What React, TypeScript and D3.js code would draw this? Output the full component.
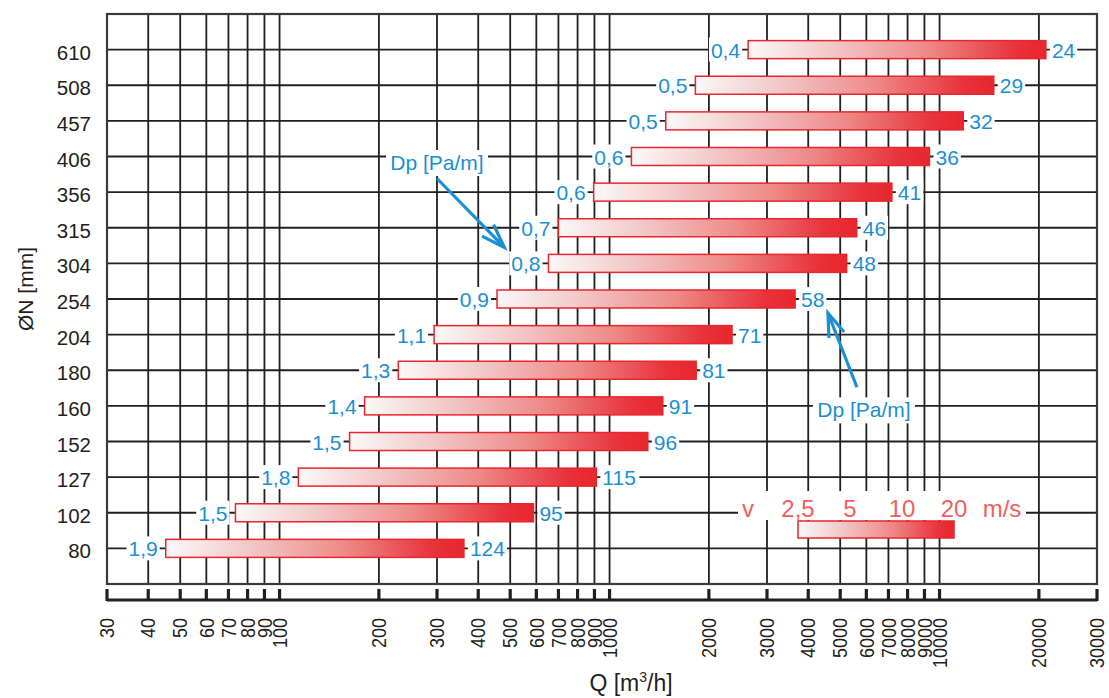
import React from "react"
import * as d3 from "d3"

// duct diameters, top to bottom
const sizes = ["610", "508", "457", "406", "356", "315", "304", "254", "204", "180", "160", "152", "127", "102", "80"]
// air flow at 2,5 m/s and at 20 m/s [m3/h]
const qMin = [2630, 1820, 1480, 1165, 895, 700, 653, 456, 294, 229, 181, 163, 114, 73.5, 45.2]
const qMax = [21000, 14600, 11800, 9320, 7170, 5610, 5230, 3650, 2350, 1830, 1450, 1306, 912, 588, 362]
// pressure drop labels [Pa/m]
const dpMin = ["0,4", "0,5", "0,5", "0,6", "0,6", "0,7", "0,8", "0,9", "1,1", "1,3", "1,4", "1,5", "1,8", "1,5", "1,9"]
const dpMax = ["24", "29", "32", "36", "41", "46", "48", "58", "71", "81", "91", "96", "115", "95", "124"]
// velocity legend
const vTicks = [2.5, 5, 10, 20]
const vLabels = ["2,5", "5", "10", "20"]

const W = 1109, H = 698
const left = 107, right = 1097, top = 14, bottom = 584
const FONT = "'Liberation Sans', Arial, Helvetica, sans-serif"
const BLUE = "#1b8fd2"
const RED = "#e8262d"
const SALMON = "#f06060"
const GRID = "#231f20"

function tw(s: string, fs: number) {
  let w = 0
  for (const c of s) w += (c === "," ? 0.278 : 0.556) * fs
  return w
}

function Arrow({ x1, y1, x2, y2 }: { x1: number; y1: number; x2: number; y2: number }) {
  const a = Math.atan2(y1 - y2, x1 - x2)
  const len = 25, da = (19 * Math.PI) / 180
  const b1 = [x2 + len * Math.cos(a + da), y2 + len * Math.sin(a + da)]
  const b2 = [x2 + len * Math.cos(a - da), y2 + len * Math.sin(a - da)]
  return (
    <g stroke={BLUE} strokeWidth={3.2} fill="none" strokeLinecap="butt">
      <line x1={x1} y1={y1} x2={x2} y2={y2} />
      <polyline points={`${b1[0]},${b1[1]} ${x2},${y2} ${b2[0]},${b2[1]}`} />
    </g>
  )
}

export default function App() {
  const x = d3.scaleLog().domain([30, 30000]).range([left, right])
  const y = d3.scalePoint().domain(sizes).range([top, bottom]).padding(1)
  const ticks = x.ticks()
  const vLeg = d3.scaleLog().domain([2.5, 20]).range([798, 954])

  const fs = 21
  const barH = 18

  const ann1 = { tx: x(300), ty: y("406")! + 13.5, x1: x(300), y1: y("406")! + 22, x2: x(480), y2: y("304")! - 16 }
  const ann2 = { tx: x(5900), ty: y("160")! + 11.5, x1: x(5620), y1: y("180")! + 17, x2: x(4590), y2: y("254")! + 14 }
  const dpW = 100

  return (
    <svg width={W} height={H} style={{ position: "absolute", left: 0, top: 0, background: "#fff" }} fontFamily={FONT}>
      <defs>
        <linearGradient id="grad" x1="0" x2="1" y1="0" y2="0">
          <stop offset="0" stopColor="#fbf8f8" />
          <stop offset="0.3" stopColor="#f2c4c4" />
          <stop offset="0.6" stopColor="#ee8a88" />
          <stop offset="0.9" stopColor="#e8323a" />
          <stop offset="1" stopColor="#e8262d" />
        </linearGradient>
      </defs>

      {/* grid */}
      <g stroke={GRID} strokeWidth={1.8}>
        {ticks.map(t => (
          <line key={"v" + t} x1={x(t)} x2={x(t)} y1={top} y2={bottom} />
        ))}
        {sizes.map(s => (
          <line key={"h" + s} x1={left} x2={right} y1={y(s)} y2={y(s)} />
        ))}
      </g>
      <rect x={left} y={top} width={right - left} height={bottom - top} fill="none" stroke="#3a3a3a" strokeWidth={2.2} />

      {/* y labels */}
      <g fontSize={20.5} fill="#231f20" textAnchor="end">
        {sizes.map(s => (
          <text key={s} x={91} y={y(s)! + 10}>{s}</text>
        ))}
      </g>
      <text transform="translate(33,289) rotate(-90)" textAnchor="middle" fontSize={21} fill="#231f20">ØN [mm]</text>

      {/* bars + labels */}
      {sizes.map((s, i) => {
        const cy = y(s)!
        const x0 = x(qMin[i]), x1 = x(qMax[i])
        const lx = x0 - 8, rx = x1 + 6
        const lw = tw(dpMin[i], fs), rw = tw(dpMax[i], fs)
        return (
          <g key={"b" + s}>
            <rect x={lx - lw - 2} y={cy - 12} width={lw + 4} height={24} fill="#fff" />
            <rect x={rx - 2} y={cy - 12} width={rw + 4} height={24} fill="#fff" />
            <text x={lx} y={cy + 8} textAnchor="end" fontSize={fs} fill={BLUE}>{dpMin[i]}</text>
            <text x={rx} y={cy + 8} fontSize={fs} fill={BLUE}>{dpMax[i]}</text>
            <rect x={x0} y={cy - barH / 2} width={x1 - x0} height={barH} fill="url(#grad)" stroke={RED} strokeWidth={1.5} />
          </g>
        )
      })}

      {/* annotations */}
      {[ann1, ann2].map((a, i) => (
        <g key={"a" + i}>
          <rect x={a.tx - dpW / 2 - 1} y={a.ty - 20} width={dpW + 2} height={26} fill="#fff" />
          <text x={a.tx} y={a.ty} textAnchor="middle" fontSize={21} fill={BLUE}>Dp [Pa/m]</text>
          <Arrow x1={a.x1} y1={a.y1} x2={a.x2} y2={a.y2} />
        </g>
      ))}

      {/* legend */}
      <g>
        <rect x={738} y={491} width={288} height={29} fill="#fff" />
        <g fontSize={24} fill={SALMON} textAnchor="middle">
          <text x={vLeg(2.5) - 50} y={517}>v</text>
          {vTicks.map((v, i) => (
            <text key={v} x={vLeg(v)} y={517}>{vLabels[i]}</text>
          ))}
          <text x={vLeg(20) + 48} y={517}>m/s</text>
        </g>
        <rect x={vLeg(2.5)} y={521} width={vLeg(20) - vLeg(2.5)} height={17} fill="url(#grad)" stroke={RED} strokeWidth={1.5} />
      </g>

      {/* x axis */}
      <g stroke={GRID}>
        <line x1={left} x2={right} y1={600} y2={600} strokeWidth={3} />
        {ticks.map(t => (
          <line key={"t" + t} x1={x(t)} x2={x(t)} y1={589} y2={601} strokeWidth={3.2} />
        ))}
      </g>
      <g fontSize={20} fill="#231f20">
        {ticks.map(t => (
          <text key={"l" + t} transform={`translate(${x(t)},618) rotate(-90) scale(0.9,1)`} textAnchor="end" dy="0.36em">
            {t}
          </text>
        ))}
      </g>
      <text x={631} y={691} textAnchor="middle" fontSize={23} fill="#231f20">
        Q [m<tspan dy={-9} fontSize={14}>3</tspan><tspan dy={9}>/h]</tspan>
      </text>
    </svg>
  )
}
